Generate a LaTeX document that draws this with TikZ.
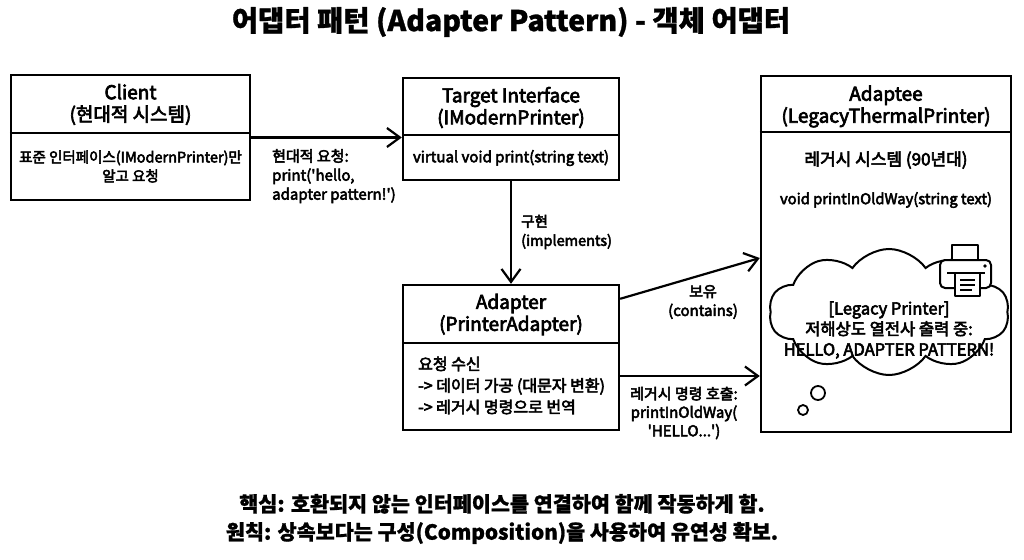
\documentclass[tikz,border=0pt]{standalone}
\usepackage{fontspec}
\setmainfont{Noto Sans CJK KR}[FakeBold=3.5]
\newfontfamily\titlefont{Noto Sans CJK KR}[FakeBold=1]
\usetikzlibrary{arrows.meta,shapes.symbols,calc}
\newcommand{\fsz}[2]{\fontsize{#1}{#2}\selectfont}
\newcommand{\sq}{\textquotesingle}
\begin{document}
\begin{tikzpicture}[x=1pt,y=-1pt,
  umlbox/.style={draw, line width=2.4pt, inner sep=0pt, rectangle},
  divider/.style={line width=2pt},
  ttl/.style={align=center, font=\fsz{19}{22}, inner sep=0pt},
  body/.style={font=\fsz{15}{19}, inner sep=0pt},
  lbl/.style={font=\fsz{15}{19}, inner sep=0pt},
  conn/.style={line width=2.2pt, -{Straight Barb[length=13pt,width=19pt,line width=2.2pt]}}
]
\useasboundingbox (0,0) rectangle (1024,559);
\fill[white] (0,0) rectangle (1024,559);

% title
\node[font=\titlefont\bfseries\fontsize{28.5}{30}\selectfont, inner sep=0pt] (title) at (511,22) {어댑터 패턴 (Adapter Pattern) - 객체 어댑터};

% Client
\node[umlbox, minimum width=239pt, minimum height=125pt] (client) at (130.5,137.5) {};
\draw[divider] (client.west |- 0,133) -- (client.east |- 0,133);
\node[ttl] (clientT) at (130.5,104.5) {Client\\(현대적 시스템)};
\node[body, align=center, font=\fsz{14.5}{19}] (clientB) at (130.5,166.5) {표준 인터페이스(IModernPrinter)만\\알고 요청};

% Target
\node[umlbox, minimum width=216pt, minimum height=102pt] (target) at (511,129) {};
\draw[divider] (target.west |- 0,135) -- (target.east |- 0,135);
\node[ttl] (targetT) at (511,107.5) {Target Interface\\(IModernPrinter)};
\node[body] (targetB) at (511,158) {virtual void print(string text)};

% Adapter
\node[umlbox, minimum width=216pt, minimum height=145pt] (adapter) at (511,357.5) {};
\draw[divider] (adapter.west |- 0,343) -- (adapter.east |- 0,343);
\node[ttl] (adapterT) at (511,314.5) {Adapter\\(PrinterAdapter)};
\node[body, align=left, anchor=west, font=\fsz{16}{21.5}] (adapterB) at (418,385.5) {요청 수신\\-> 데이터 가공 (대문자 변환)\\-> 레거시 명령으로 번역};

% Adaptee
\node[umlbox, minimum width=250pt, minimum height=356pt] (adaptee) at (886,254) {};
\draw[divider] (adaptee.west |- 0,132) -- (adaptee.east |- 0,132);
\node[ttl] (adapteeT) at (886,106.5) {Adaptee\\(LegacyThermalPrinter)};
\node[body, font=\fsz{17}{19}] (adapteeB1) at (886,160) {레거시 시스템 (90년대)};
\node[body, font=\fsz{14.8}{19}] (adapteeB2) at (886,200) {void printInOldWay(string text)};

% cloud
\node[cloud, draw, line width=2pt, cloud puffs=10, cloud puff arc=110, aspect=1.9,
      minimum width=240pt, minimum height=126pt, inner sep=0pt] (cloud) at (889,312) {};
\node[font=\fsz{16.5}{20.5}, align=center, inner sep=0pt] (cloudT) at (889,330) {[Legacy Printer]\\저해상도 열전사 출력 중:\\HELLO, ADAPTER PATTERN!};
\draw[line width=1.8pt] (818,393) circle (7);
\draw[line width=1.8pt] (803,410) circle (5);

% printer icon
\begin{scope}[line width=2pt, line join=round]
  \filldraw[fill=white] (952,245) rectangle (978,261);
  \filldraw[fill=white, rounded corners=5pt] (940,260) rectangle (991,288);
  \draw (947,273) -- (985,273);
  \filldraw[fill=white] (955,273) rectangle (980,296);
  \draw[line width=1.6pt] (960,280) -- (975,280) (960,285) -- (975,285) (960,290) -- (972,290);
  \fill (985,266) circle (1.8);
\end{scope}

% connectors
\draw[conn] (client.east) -- (client.east -| target.west);
\node[lbl, align=left, anchor=north west] (reqL) at (272,149) {현대적 요청:\\print(\sq hello,\\adapter pattern!\sq)};

\draw[conn] (target.south) -- (adapter.north);
\node[lbl, align=left, anchor=west, font=\fsz{14.5}{19}] (implL) at (521,232) {구현\\(implements)};

\coordinate (ca) at ($(adapter.north east)+(0,15)$);
\coordinate (cb) at ($(adaptee.west)+(0,4)$);
\draw[conn] (ca) -- (cb);
\node[lbl, align=center] (contL) at (703,302) {보유\\(contains)};

\coordinate (da) at (adapter.east |- 0,376);
\draw[conn] (da) -- (da -| adaptee.west);
\node[lbl, align=center, font=\fsz{15}{18.5}] (callL) at (684,413) {레거시 명령 호출:\\printInOldWay(\\\sq HELLO...\sq)};

% bottom text
\node[font=\titlefont\bfseries\fsz{20.7}{28}, align=center, inner sep=0pt] (note) at (502,519) {핵심: 호환되지 않는 인터페이스를 연결하여 함께 작동하게 함.\\원칙: 상속보다는 구성(Composition)을 사용하여 유연성 확보.};
\end{tikzpicture}
\end{document}
